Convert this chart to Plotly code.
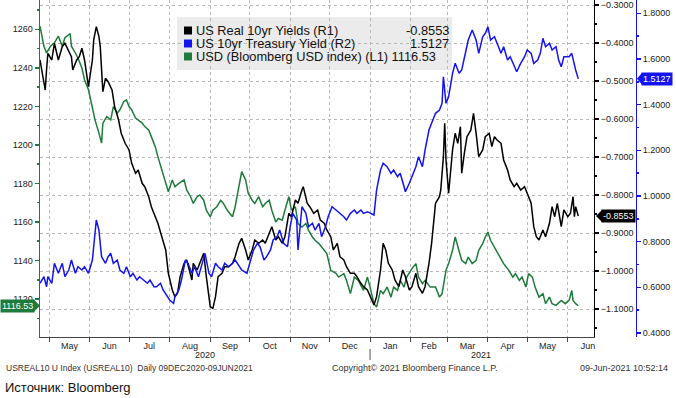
import plotly.graph_objects as go
import datetime as _dt

# ---------------- data ----------------
usd_dates = ["2020-04-24","2020-04-27","2020-04-29","2020-05-02","2020-05-05","2020-05-08","2020-05-11","2020-05-13","2020-05-17","2020-05-18",
"2020-05-21","2020-05-23","2020-05-26","2020-05-28","2020-05-31","2020-06-03","2020-06-05","2020-06-08","2020-06-10","2020-06-11",
"2020-06-14","2020-06-17","2020-06-19","2020-06-22","2020-06-24","2020-06-27","2020-06-29","2020-07-01","2020-07-03","2020-07-06",
"2020-07-08","2020-07-11","2020-07-13","2020-07-16","2020-07-18","2020-07-21","2020-07-23","2020-07-26","2020-07-29","2020-07-31",
"2020-08-03","2020-08-05","2020-08-08","2020-08-12","2020-08-14","2020-08-17","2020-08-19","2020-08-22","2020-08-24","2020-08-27",
"2020-08-29","2020-09-01","2020-09-03","2020-09-06","2020-09-09","2020-09-11","2020-09-14","2020-09-18","2020-09-20","2020-09-23",
"2020-09-25","2020-09-28","2020-09-30","2020-10-03","2020-10-05","2020-10-08","2020-10-11","2020-10-13","2020-10-16","2020-10-18",
"2020-10-21","2020-10-23","2020-10-26","2020-10-28","2020-10-31","2020-11-02","2020-11-05","2020-11-07","2020-11-10","2020-11-13",
"2020-11-15","2020-11-18","2020-11-20","2020-11-23","2020-11-29","2020-12-02","2020-12-06","2020-12-08","2020-12-12","2020-12-14",
"2020-12-17","2020-12-20","2020-12-23","2020-12-27","2020-12-30","2021-01-01","2021-01-04","2021-01-06","2021-01-09","2021-01-11",
"2021-01-14","2021-01-17","2021-01-19","2021-01-22","2021-01-24","2021-01-27","2021-01-29","2021-02-02","2021-02-05","2021-02-07",
"2021-02-10","2021-02-12","2021-02-16","2021-02-20","2021-02-23","2021-02-25","2021-02-28","2021-03-02","2021-03-05","2021-03-07",
"2021-03-10","2021-03-12","2021-03-15","2021-03-17","2021-03-20","2021-03-23","2021-03-25","2021-03-28","2021-03-30","2021-04-01",
"2021-04-03","2021-04-06","2021-04-09","2021-04-13","2021-04-17","2021-04-20","2021-04-22","2021-04-25","2021-04-27","2021-04-30",
"2021-05-02","2021-05-05","2021-05-07","2021-05-10","2021-05-13","2021-05-15","2021-05-18","2021-05-20","2021-05-23","2021-05-27",
"2021-05-30","2021-06-02","2021-06-04","2021-06-05","2021-06-07","2021-06-09"]
usd_vals = [1261.6,1251.2,1247.7,1251.2,1253.0,1256.4,1251.2,1255.6,1257.8,1251.2,
1247.7,1245.1,1239.9,1233.8,1228.6,1219.9,1213.0,1206.1,1200.9,1211.3,
1214.7,1213.0,1219.9,1216.5,1218.2,1222.5,1223.4,1219.9,1218.2,1213.9,
1213.0,1211.3,1209.5,1207.8,1204.3,1199.1,1193.9,1187.0,1180.0,1175.7,
1181.8,1178.3,1180.0,1181.8,1176.6,1173.1,1169.6,1173.1,1174.0,1171.3,
1166.1,1162.7,1166.1,1167.9,1171.3,1169.6,1166.1,1162.7,1167.9,1178.3,
1186.1,1181.8,1174.8,1171.3,1169.6,1173.1,1167.9,1169.6,1171.3,1166.1,
1160.0,1161.8,1160.9,1166.1,1173.1,1166.1,1167.9,1159.2,1157.4,1159.2,
1155.7,1152.2,1150.5,1148.8,1143.6,1134.9,1133.3,1131.4,1133.2,1129.7,
1122.8,1131.4,1129.7,1124.5,1131.4,1126.2,1117.6,1115.8,1124.5,1122.8,
1126.2,1121.0,1126.2,1124.5,1129.7,1126.2,1131.4,1135.8,1138.4,1131.4,
1128.0,1129.7,1126.2,1126.2,1121.0,1122.8,1134.9,1138.4,1145.3,1152.2,
1145.3,1140.1,1138.4,1141.8,1138.4,1140.1,1145.3,1148.8,1152.2,1154.8,
1150.5,1147.0,1143.6,1138.4,1134.9,1131.4,1133.2,1129.7,1131.4,1126.2,
1133.2,1131.4,1126.2,1121.0,1122.8,1117.6,1121.0,1117.6,1116.7,1119.3,
1117.6,1119.3,1124.5,1119.3,1117.6,1116.53]

real_dates = ["2020-04-24","2020-04-27","2020-04-28","2020-04-29","2020-04-30","2020-05-03","2020-05-05","2020-05-08","2020-05-11","2020-05-13",
"2020-05-16","2020-05-18","2020-05-19","2020-05-22","2020-05-24","2020-05-26","2020-05-28","2020-05-31","2020-06-03","2020-06-04",
"2020-06-06","2020-06-08","2020-06-09","2020-06-10","2020-06-11","2020-06-13","2020-06-15","2020-06-18","2020-06-20","2020-06-23",
"2020-06-25","2020-06-28","2020-07-01","2020-07-03","2020-07-06","2020-07-08","2020-07-11","2020-07-13","2020-07-16","2020-07-18",
"2020-07-21","2020-07-23","2020-07-26","2020-07-29","2020-07-31","2020-08-03","2020-08-05","2020-08-07","2020-08-09","2020-08-12",
"2020-08-14","2020-08-17","2020-08-18","2020-08-19","2020-08-22","2020-08-24","2020-08-27","2020-08-29","2020-09-01","2020-09-03",
"2020-09-05","2020-09-07","2020-09-10","2020-09-12","2020-09-15","2020-09-18","2020-09-20","2020-09-23","2020-09-25","2020-09-28",
"2020-09-30","2020-10-03","2020-10-05","2020-10-08","2020-10-11","2020-10-13","2020-10-16","2020-10-18","2020-10-21","2020-10-23",
"2020-10-26","2020-10-28","2020-10-31","2020-11-02","2020-11-05","2020-11-07","2020-11-10","2020-11-11","2020-11-14","2020-11-16",
"2020-11-19","2020-11-22","2020-11-24","2020-11-27","2020-11-29","2020-12-02","2020-12-04","2020-12-07","2020-12-09","2020-12-12",
"2020-12-14","2020-12-17","2020-12-20","2020-12-22","2020-12-25","2020-12-27","2020-12-30","2021-01-01","2021-01-04","2021-01-06",
"2021-01-09","2021-01-11","2021-01-13","2021-01-15","2021-01-18","2021-01-20","2021-01-23","2021-01-26","2021-01-28","2021-01-31",
"2021-02-02","2021-02-05","2021-02-07","2021-02-10","2021-02-12","2021-02-15","2021-02-17","2021-02-20","2021-02-23","2021-02-24",
"2021-02-26","2021-02-27","2021-02-28","2021-03-02","2021-03-05","2021-03-07","2021-03-09","2021-03-11","2021-03-12","2021-03-14",
"2021-03-16","2021-03-19","2021-03-21","2021-03-23","2021-03-25","2021-03-28","2021-03-30","2021-04-02","2021-04-04","2021-04-06",
"2021-04-08","2021-04-11","2021-04-13","2021-04-16","2021-04-18","2021-04-21","2021-04-23","2021-04-26","2021-04-29","2021-05-01",
"2021-05-04","2021-05-06","2021-05-08","2021-05-10","2021-05-13","2021-05-15","2021-05-18","2021-05-20","2021-05-22","2021-05-24",
"2021-05-27","2021-05-29","2021-06-01","2021-06-03","2021-06-05","2021-06-06","2021-06-07","2021-06-09"]
real_vals = [-0.4447,-0.4973,-0.5237,-0.4710,-0.4270,-0.4447,-0.4007,-0.4447,-0.4096,-0.4007,
-0.4228,-0.4359,-0.4710,-0.4447,-0.4359,-0.4138,-0.4447,-0.5149,-0.4447,-0.3920,
-0.3570,-0.3833,-0.4096,-0.4886,-0.5281,-0.4928,-0.5017,-0.5237,-0.5675,-0.6026,
-0.6376,-0.6639,-0.6815,-0.7165,-0.7428,-0.7342,-0.7692,-0.7781,-0.8044,-0.8307,
-0.8571,-0.8744,-0.9097,-0.9447,-1.0060,-1.0500,-1.0676,-1.0587,-1.0150,-0.9797,
-0.9710,-1.0060,-1.0237,-0.9797,-0.9974,-0.9797,-0.9534,-1.0150,-1.0940,-1.0982,
-1.0676,-1.0150,-1.0060,-0.9887,-0.9887,-0.9797,-0.9624,-0.9271,-0.9139,-0.9447,
-0.9710,-0.9447,-0.9184,-0.9271,-0.9184,-0.9271,-0.9008,-0.8834,-0.9184,-0.9097,
-0.9271,-0.9097,-0.8481,-0.8571,-0.8131,-0.8218,-0.7868,-0.7781,-0.8218,-0.8307,
-0.8481,-0.8394,-0.8657,-0.8744,-0.8921,-0.9097,-0.9447,-0.9271,-0.9624,-0.9710,
-0.9887,-1.0060,-1.0060,-1.0150,-1.0324,-1.0413,-1.0500,-1.0676,-1.0895,-1.0676,
-0.9974,-0.9271,-0.9447,-0.9797,-0.9974,-1.0237,-1.0413,-0.9974,-1.0150,-1.0500,
-1.0413,-1.0060,-1.0413,-1.0587,-1.0413,-0.9797,-0.9271,-0.8218,-0.8044,-0.7868,
-0.6991,-0.6112,-0.7078,-0.7955,-0.6815,-0.6376,-0.6639,-0.6202,-0.7428,-0.6902,
-0.6465,-0.6289,-0.5849,-0.6376,-0.6991,-0.6815,-0.6465,-0.6376,-0.6728,-0.6465,
-0.6552,-0.6639,-0.7078,-0.7342,-0.7605,-0.7781,-0.7692,-0.7868,-0.7781,-0.7955,
-0.8218,-0.8834,-0.9097,-0.9184,-0.8921,-0.9097,-0.8744,-0.8307,-0.8571,-0.8218,
-0.8834,-0.8394,-0.8571,-0.8481,-0.8044,-0.8571,-0.8307,-0.8553]

tsy_dates = ["2020-04-24","2020-04-27","2020-04-29","2020-04-30","2020-05-03","2020-05-05","2020-05-08","2020-05-11","2020-05-13","2020-05-16",
"2020-05-18","2020-05-21","2020-05-23","2020-05-26","2020-05-28","2020-05-31","2020-06-03","2020-06-05","2020-06-06","2020-06-08",
"2020-06-10","2020-06-13","2020-06-15","2020-06-17","2020-06-19","2020-06-22","2020-06-24","2020-06-27","2020-06-29","2020-07-02",
"2020-07-04","2020-07-07","2020-07-09","2020-07-12","2020-07-15","2020-07-17","2020-07-20","2020-07-22","2020-07-25","2020-07-27",
"2020-07-30","2020-08-01","2020-08-04","2020-08-05","2020-08-08","2020-08-10","2020-08-13","2020-08-15","2020-08-18","2020-08-20",
"2020-08-23","2020-08-26","2020-08-28","2020-08-31","2020-09-02","2020-09-05","2020-09-07","2020-09-10","2020-09-12","2020-09-15",
"2020-09-18","2020-09-20","2020-09-23","2020-09-25","2020-09-29","2020-10-02","2020-10-04","2020-10-07","2020-10-09","2020-10-12",
"2020-10-14","2020-10-17","2020-10-19","2020-10-22","2020-10-24","2020-10-27","2020-10-30","2020-11-01","2020-11-03","2020-11-06",
"2020-11-07","2020-11-10","2020-11-13","2020-11-15","2020-11-18","2020-11-20","2020-11-23","2020-11-25","2020-11-28","2020-11-30",
"2020-12-03","2020-12-06","2020-12-09","2020-12-12","2020-12-14","2020-12-17","2020-12-20","2020-12-22","2020-12-25","2020-12-27",
"2020-12-30","2021-01-01","2021-01-04","2021-01-06","2021-01-09","2021-01-11","2021-01-14","2021-01-17","2021-01-19","2021-01-22",
"2021-01-24","2021-01-27","2021-01-28","2021-01-31","2021-02-02","2021-02-05","2021-02-07","2021-02-10","2021-02-12","2021-02-15",
"2021-02-17","2021-02-20","2021-02-23","2021-02-25","2021-02-26","2021-02-28","2021-03-02","2021-03-05","2021-03-07","2021-03-10",
"2021-03-12","2021-03-15","2021-03-17","2021-03-20","2021-03-23","2021-03-25","2021-03-28","2021-03-30","2021-04-01","2021-04-03",
"2021-04-06","2021-04-08","2021-04-11","2021-04-13","2021-04-16","2021-04-18","2021-04-21","2021-04-23","2021-04-26","2021-04-29",
"2021-05-01","2021-05-04","2021-05-06","2021-05-09","2021-05-11","2021-05-13","2021-05-15","2021-05-18","2021-05-20","2021-05-23",
"2021-05-25","2021-05-27","2021-05-29","2021-06-02","2021-06-04","2021-06-06","2021-06-07","2021-06-09"]
tsy_vals = [0.6176,0.6465,0.6027,0.6465,0.6176,0.7052,0.6614,0.7052,0.6465,0.6758,
0.7196,0.6614,0.6903,0.6758,0.6903,0.6614,0.7196,0.8509,0.8947,0.8509,
0.7341,0.7052,0.7341,0.7489,0.7052,0.7196,0.6758,0.6614,0.6903,0.6465,
0.6614,0.6320,0.6465,0.6320,0.6176,0.6320,0.6027,0.6027,0.6176,0.5883,
0.5589,0.5445,0.5300,0.5589,0.5883,0.6320,0.7196,0.7052,0.6614,0.6903,
0.6465,0.7052,0.7489,0.6614,0.6465,0.7052,0.6903,0.6758,0.7052,0.6903,
0.7052,0.7196,0.6903,0.6758,0.6614,0.7196,0.7634,0.7927,0.7778,0.7196,
0.7341,0.7634,0.8072,0.8216,0.8509,0.7927,0.7778,0.8654,0.9240,0.8947,
0.7634,0.9530,0.9240,0.8654,0.8803,0.8509,0.8803,0.8216,0.8654,0.9092,
0.9530,0.9385,0.9240,0.9092,0.8947,0.9240,0.9385,0.9240,0.9385,0.9240,
0.9311,0.9240,0.9166,1.0261,1.1136,1.1430,1.1281,1.0992,1.1136,1.0843,
1.0992,1.0405,1.0186,1.0554,1.0843,1.1281,1.1719,1.1281,1.2012,1.2887,
1.3181,1.3619,1.3763,1.4056,1.5221,1.4056,1.4345,1.5370,1.5808,1.5370,
1.5514,1.6245,1.6828,1.7265,1.6828,1.6245,1.6972,1.7121,1.7410,1.6828,
1.6972,1.6683,1.6245,1.6535,1.5952,1.6096,1.5659,1.5440,1.5808,1.6096,
1.6390,1.6245,1.5808,1.5952,1.6245,1.6902,1.6535,1.6683,1.6390,1.6535,
1.5952,1.5659,1.6096,1.6096,1.6245,1.5659,1.5514,1.5127]

series_names = ["US Real 10yr Yields (R1)", "US 10yr Treasury Yield (R2)", "USD (Bloomberg USD index) (L1)"]
x_range = ["2020-04-24", "2021-06-21"]
usd_range = [1100.3, 1275.2]
real_range = [-1.1737, -0.2868]
tsy_range = [0.3825, 1.858]
year_labels = ["2020", "2021"]
year_break = "2021-01-01"

footer_left = "USREAL10 U Index (USREAL10)  Daily 09DEC2020-09JUN2021"
footer_mid = "Copyright\u00a9 2021 Bloomberg Finance L.P."
footer_right = "09-Jun-2021 10:52:14"
source_text = "Источник: Bloomberg"

# ---------------- styling / geometry ----------------
W, H = 676, 398
ML, MR, MT, MB = 40, 40, 0, 61
PLOT_RIGHT = 594
PW = W - ML - MR
PH = H - MT - MB
XDOM = (PLOT_RIGHT - ML) / PW

C_BLACK = "#000000"
C_BLUE = "#1414f0"
C_GREEN = "#1e7b3c"
GRID = "#b8b8b8"
TXT = "#222222"
FONT = "Liberation Sans"


def fx(px):
    return (px - ML) / PW


def fy(py):
    return (MT + PH - py) / PH


def frac(v, rng):
    return (v - rng[0]) / (rng[1] - rng[0])


fig = go.Figure()
fig.add_trace(go.Scatter(x=usd_dates, y=usd_vals, mode="lines", yaxis="y",
                         line=dict(color=C_GREEN, width=1.5), name=series_names[2]))
fig.add_trace(go.Scatter(x=real_dates, y=real_vals, mode="lines", yaxis="y2",
                         line=dict(color=C_BLACK, width=1.5), name=series_names[0]))
fig.add_trace(go.Scatter(x=tsy_dates, y=tsy_vals, mode="lines", yaxis="y3",
                         line=dict(color=C_BLUE, width=1.5), name=series_names[1]))

tickfont = dict(family=FONT, size=9, color=TXT)

fig.update_layout(
    width=W, height=H,
    margin=dict(l=ML, r=MR, t=MT, b=MB, pad=0),
    paper_bgcolor="white", plot_bgcolor="rgba(0,0,0,0)",
    showlegend=False,
    font=dict(family=FONT, color=TXT),
    xaxis=dict(domain=[0, XDOM], type="date", range=x_range,
               tick0="2020-05-01", dtick="M1", ticklabelmode="period", tickformat="%b",
               ticks="outside", ticklen=4, tickcolor="#444", tickfont=tickfont,
               ticklabelstandoff=-4,
               showline=True, linecolor="#444", linewidth=1,
               showgrid=True, gridcolor=GRID, griddash="dot", gridwidth=1,
               zeroline=False, anchor="y"),
    yaxis=dict(range=usd_range, tick0=1100, dtick=20, side="left",
               ticks="outside", ticklen=4, tickwidth=1.5, tickcolor=C_GREEN, tickfont=tickfont,
               showline=True, linecolor=C_GREEN, linewidth=1.5,
               showgrid=False, zeroline=False,
               minor=dict(dtick=10, tick0=1100, ticks="outside", ticklen=2, tickcolor=C_GREEN)),
    yaxis2=dict(range=real_range, tick0=-1.1, dtick=0.1, tickformat=".4f",
                overlaying="y", side="right", anchor="x",
                ticks="outside", ticklen=4, tickwidth=1.5, tickcolor=C_BLACK, tickfont=tickfont,
                showline=True, linecolor=C_BLACK, linewidth=1,
                showgrid=True, gridcolor=GRID, griddash="dot", gridwidth=1, zeroline=False,
                minor=dict(dtick=0.05, tick0=-1.1, ticks="outside", ticklen=2, tickcolor=C_BLACK)),
    yaxis3=dict(range=tsy_range, tick0=0.4, dtick=0.2, tickformat=".4f",
                overlaying="y", side="right", anchor="free", position=1,
                ticks="outside", ticklen=4, tickwidth=1.5, tickcolor=C_BLUE, tickfont=tickfont,
                showline=True, linecolor=C_BLUE, linewidth=1,
                showgrid=False, zeroline=False,
                minor=dict(dtick=0.1, tick0=0.4, ticks="outside", ticklen=2, tickcolor=C_BLUE)),
)

shapes = []
annotations = []

# legend box
shapes.append(dict(type="rect", xref="paper", yref="paper", x0=fx(177), x1=fx(452),
                   y0=fy(70), y1=fy(17), fillcolor="#ebebeb", line=dict(width=0), layer="below"))
legend_rows = [
    (series_names[0], C_BLACK, f"{real_vals[-1]:.4f}", 30.5),
    (series_names[1], C_BLUE, f"{tsy_vals[-1]:.4f}", 43.5),
    (series_names[2] + " " + f"{usd_vals[-1]:.2f}", C_GREEN, None, 56.5),
]
lfont = dict(family=FONT, size=12.8, color="#111")
for label, col, val, py in legend_rows:
    shapes.append(dict(type="rect", xref="paper", yref="paper", x0=fx(184), x1=fx(192),
                       y0=fy(py + 4), y1=fy(py - 4), fillcolor=col, line=dict(width=0)))
    annotations.append(dict(text=label, xref="paper", yref="paper", x=fx(194), y=fy(py),
                            xanchor="left", yanchor="middle", showarrow=False, font=lfont))
    if val is not None:
        annotations.append(dict(text=val, xref="paper", yref="paper", x=fx(451), y=fy(py),
                                xanchor="right", yanchor="middle", showarrow=False, font=lfont))

# last-value tags
tagfont = dict(family=FONT, size=9, color="white")
h = 6 / PH
yg = frac(usd_vals[-1], usd_range)
annotations.append(dict(text=f"{usd_vals[-1]:.2f}", xref="paper", yref="paper", x=fx(35), y=yg,
                        xanchor="right", yanchor="middle", showarrow=False, bgcolor=C_GREEN,
                        font=tagfont, borderpad=1))
shapes.append(dict(type="path", xref="paper", yref="paper",
                   path=f"M {fx(40)},{yg} L {fx(34)},{yg + h} L {fx(34)},{yg - h} Z",
                   fillcolor=C_GREEN, line=dict(width=0)))
yb = frac(real_vals[-1], real_range)
annotations.append(dict(text=f"{real_vals[-1]:.4f}", xref="paper", yref="paper",
                        x=fx(601), y=yb, xanchor="left", yanchor="middle", showarrow=False,
                        bgcolor=C_BLACK, font=tagfont, borderpad=1))
shapes.append(dict(type="path", xref="paper", yref="paper",
                   path=f"M {fx(596)},{yb} L {fx(602)},{yb + h} L {fx(602)},{yb - h} Z",
                   fillcolor=C_BLACK, line=dict(width=0)))
yt = frac(tsy_vals[-1], tsy_range)
annotations.append(dict(text=f"{tsy_vals[-1]:.4f}", xref="paper", yref="paper",
                        x=fx(641), y=yt, xanchor="left", yanchor="middle", showarrow=False,
                        bgcolor=C_BLUE, font=tagfont, borderpad=1))
shapes.append(dict(type="path", xref="paper", yref="paper",
                   path=f"M {fx(637)},{yt} L {fx(642)},{yt + h} L {fx(642)},{yt - h} Z",
                   fillcolor=C_BLUE, line=dict(width=0)))

# year labels under the month labels
d0 = _dt.date.fromisoformat(x_range[0])
d1 = _dt.date.fromisoformat(x_range[1])
db = _dt.date.fromisoformat(year_break)
mid1 = d0 + (db - d0) / 2
mid2 = db + (d1 - db) / 2
for lbl, d in zip(year_labels, [mid1, mid2]):
    annotations.append(dict(text=lbl, xref="x", yref="paper", x=d.isoformat(), y=fy(355),
                            xanchor="center", yanchor="middle", showarrow=False,
                            font=dict(family=FONT, size=9, color=TXT)))
shapes.append(dict(type="line", xref="x", yref="paper", x0=year_break, x1=year_break,
                   y0=fy(349), y1=fy(360), line=dict(color="#555", width=1)))

# footers
ffont = dict(family=FONT, size=9, color="#333")
annotations.append(dict(text=footer_left, xref="paper", yref="paper", x=fx(4), y=fy(368),
                        xanchor="left", yanchor="middle", showarrow=False,
                        font=dict(family=FONT, size=8.5, color="#333")))
annotations.append(dict(text=footer_mid, xref="paper", yref="paper", x=fx(415), y=fy(368),
                        xanchor="center", yanchor="middle", showarrow=False, font=ffont))
annotations.append(dict(text=footer_right, xref="paper", yref="paper", x=fx(670), y=fy(368),
                        xanchor="right", yanchor="middle", showarrow=False, font=ffont))
annotations.append(dict(text=source_text, xref="paper", yref="paper", x=fx(3), y=fy(387),
                        xanchor="left", yanchor="middle", showarrow=False,
                        font=dict(family=FONT, size=13, color="#111")))

fig.update_layout(shapes=shapes, annotations=annotations)
fig.write_html("out.html", config={"displayModeBar": False, "staticPlot": True},
               post_script="document.body.style.margin='0';document.body.style.overflow='hidden';")
